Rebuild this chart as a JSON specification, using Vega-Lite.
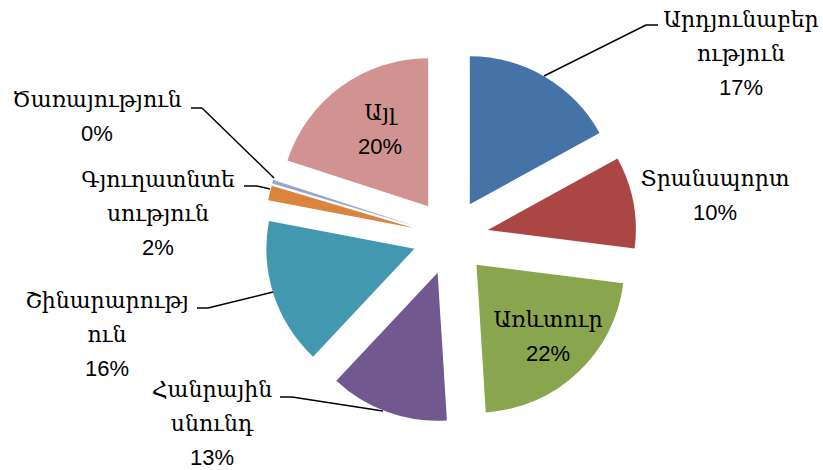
{
  "$schema": "https://vega.github.io/schema/vega-lite/v6.json",
  "width": 823,
  "height": 470,
  "padding": 0,
  "autosize": {"type": "none"},
  "background": "white",
  "config": {"view": {"stroke": null}},
  "data": {
    "values": [
      {"i": 0, "name": "Արդյունաբերություն", "lines": "Արդյունաբեր\nություն", "value": 17},
      {"i": 1, "name": "Տրանսպորտ", "lines": "Տրանսպորտ", "value": 10},
      {"i": 2, "name": "Առևտուր", "lines": "Առևտուր", "value": 22},
      {"i": 3, "name": "Հանրային սնունդ", "lines": "Հանրային\nսնունդ", "value": 13},
      {"i": 4, "name": "Շինարարություն", "lines": "Շինարարությ\nուն", "value": 16},
      {"i": 5, "name": "Գյուղատնտեսություն", "lines": "Գյուղատնտե\nսություն", "value": 1.6},
      {"i": 6, "name": "Ծառայություն", "lines": "Ծառայություն", "value": 0.4},
      {"i": 7, "name": "Այլ", "lines": "Այլ", "value": 20}
    ]
  },
  "layer": [
    {
      "mark": {
        "type": "arc",
        "radius": 148,
        "x": {"expr": "450.5 + 38*sin(PI*(datum.value_start+datum.value_end)/100)"},
        "y": {"expr": "237 - 38*cos(PI*(datum.value_start+datum.value_end)/100)"}
      },
      "encoding": {
        "theta": {"field": "value", "type": "quantitative", "stack": true},
        "order": {"field": "i", "type": "quantitative", "sort": "ascending"},
        "color": {
          "field": "name",
          "type": "nominal",
          "legend": null,
          "scale": {
            "domain": ["Արդյունաբերություն", "Տրանսպորտ", "Առևտուր", "Հանրային սնունդ", "Շինարարություն", "Գյուղատնտեսություն", "Ծառայություն", "Այլ"],
            "range": ["#4572A7", "#AA4643", "#89A54E", "#71588F", "#4198AF", "#DB843D", "#93A9CF", "#D19392"]
          }
        }
      }
    },
    {
      "transform": [{"filter": "indexof([0,3,4,5,6], datum.i) >= 0"}],
      "mark": {"type": "rule", "color": "black", "strokeWidth": 1.5},
      "encoding": {
        "x": {"value": {"expr": "[544,0,0,383,273,270,274,0][datum.i]"}},
        "y": {"value": {"expr": "[76,0,0,411,292,189,178,0][datum.i]"}},
        "x2": {"value": {"expr": "[646,0,0,292,208,257,202,0][datum.i]"}},
        "y2": {"value": {"expr": "[25,0,0,397,308,186,108,0][datum.i]"}}
      }
    },
    {
      "transform": [{"filter": "indexof([0,3,4,5,6], datum.i) >= 0"}],
      "mark": {"type": "rule", "color": "black", "strokeWidth": 1.5},
      "encoding": {
        "x": {"value": {"expr": "[646,0,0,292,208,257,202,0][datum.i]"}},
        "y": {"value": {"expr": "[25,0,0,397,308,186,108,0][datum.i]"}},
        "x2": {"value": {"expr": "[658,0,0,280,197,244,191,0][datum.i]"}},
        "y2": {"value": {"expr": "[25,0,0,397,308,186,108,0][datum.i]"}}
      }
    },
    {
      "transform": [{"calculate": "datum.lines + '\\n' + format(datum.value, '.0f') + '%'", "as": "label"}],
      "mark": {
        "type": "text",
        "font": "'Liberation Sans', 'DejaVu Serif', serif",
        "fontSize": 22,
        "lineBreak": "\n",
        "lineHeight": 34,
        "align": "center",
        "baseline": "alphabetic",
        "color": "black",
        "x": {"expr": "[741,715,548,212,107,158,97,380][datum.i]"},
        "y": {"expr": "[27,186,327,397,308,187,107,120][datum.i]"}
      },
      "encoding": {
        "text": {"field": "label", "type": "nominal"}
      }
    }
  ]
}
